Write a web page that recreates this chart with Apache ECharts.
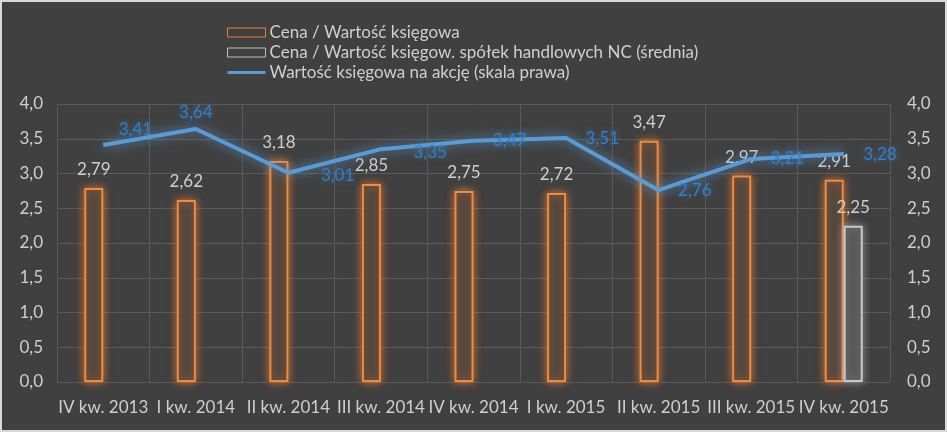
<!DOCTYPE html>
<html>
<head>
<meta charset="utf-8">
<script src="https://cdn.jsdelivr.net/npm/echarts@6/dist/echarts.min.js"></script>
<style>
html,body{margin:0;padding:0;background:#d9d9d9;}
#c{position:absolute;left:2px;top:2px;width:943px;height:428px;}
</style>
</head>
<body>
<div id="c"></div>
<script>
var categories = ['IV kw. 2013','I kw. 2014','II kw. 2014','III kw. 2014','IV kw. 2014','I kw. 2015','II kw. 2015','III kw. 2015','IV kw. 2015'];
var cenaWK = [2.79, 2.62, 3.18, 2.85, 2.75, 2.72, 3.47, 2.97, 2.91];
var cenaWKNC = [null, null, null, null, null, null, null, null, 2.25];
var wkNaAkcje = [3.41, 3.64, 3.01, 3.35, 3.47, 3.51, 2.76, 3.21, 3.28];
var yTicks = {min: 0, max: 4, interval: 0.5};

var FONT = 'Lato';
var FS = 17;
var txt = '#cfcfcf';
var gridC = '#5a5a5a';
function fmt(v){ return Number(v).toFixed(2).replace('.', ','); }
function fmt1(v){ return Number(v).toFixed(1).replace('.', ','); }

var lineData = wkNaAkcje.map(function(v, i){
  var d = {value: v};
  if (i === 1) d.label = {position: 'top', distance: 8};
  if (i === 0) d.label = {position: 'right', distance: 15, offset: [0, -15]};
  if (i === 2 || i === 3) d.label = {offset: [13, 3]};
  return d;
});

var chart = echarts.init(document.getElementById('c'));
chart.setOption({
  backgroundColor: '#404040',
  textStyle: {fontFamily: FONT},
  animation: false,
  legend: {
    orient: 'vertical',
    left: 220,
    top: 16,
    itemWidth: 38,
    itemHeight: 9,
    itemGap: 1,
    textStyle: {color: txt, fontSize: FS, fontFamily: FONT, lineHeight: 19, padding: [0,0,0,-1]},
    data: [
      {name: 'Cena / Wartość księgowa', icon: 'rect', itemStyle: {color: '#404040', borderColor: '#ed7d31', borderWidth: 1, shadowBlur: 0, opacity: 1}},
      {name: 'Cena / Wartość księgow. spółek handlowych NC (średnia)', icon: 'rect', itemStyle: {color: '#404040', borderColor: '#bfbfbf', borderWidth: 1, shadowBlur: 0, opacity: 1}},
      {name: 'Wartość księgowa na akcję (skala prawa)', icon: 'path://M0,0 L38,0 L38,3 L0,3 Z', itemStyle: {color: '#5b9bd5', borderWidth: 0, shadowBlur: 0, opacity: 1}}
    ]
  },
  grid: {left: 55, right: 55, top: 102, bottom: 48, containLabel: false},
  xAxis: {
    type: 'category',
    data: categories,
    boundaryGap: true,
    axisLine: {show: false},
    axisTick: {show: false},
    axisLabel: {color: txt, fontSize: FS, fontFamily: FONT, margin: 17, interval: 0},
    splitLine: {show: true, interval: 0, lineStyle: {color: gridC, width: 1}}
  },
  yAxis: [
    {type: 'value', min: yTicks.min, max: yTicks.max, interval: yTicks.interval,
     axisLine: {show: false}, axisTick: {show: false},
     axisLabel: {color: txt, fontSize: FS, fontFamily: FONT, margin: 14, formatter: fmt1},
     splitLine: {lineStyle: {color: gridC, width: 1}}},
    {type: 'value', min: yTicks.min, max: yTicks.max, interval: yTicks.interval, position: 'right',
     axisLine: {show: false}, axisTick: {show: false},
     axisLabel: {color: txt, fontSize: FS, fontFamily: FONT, margin: 17, formatter: fmt1},
     splitLine: {show: false}}
  ],
  series: [
    {
      name: 'Cena / Wartość księgowa', type: 'bar', data: cenaWK,
      barWidth: 19, barGap: '0%',
      itemStyle: {color: 'rgba(64,64,64,0.9)', borderColor: '#f08a3c', borderWidth: 2, shadowBlur: 9, shadowColor: 'rgba(237,125,49,0.9)'},
      label: {show: true, position: 'top', distance: 10, color: txt, fontSize: FS, fontFamily: FONT, formatter: function(p){return fmt(p.value);}}
    },
    {
      name: 'Cena / Wartość księgow. spółek handlowych NC (średnia)', type: 'bar', data: cenaWKNC,
      barWidth: 19, barGap: '0%',
      itemStyle: {color: 'rgba(80,80,80,0.9)', borderColor: '#c8c8c8', borderWidth: 2, shadowBlur: 9, shadowColor: 'rgba(200,200,200,0.6)'},
      label: {show: true, position: 'top', distance: 10, color: txt, fontSize: FS, fontFamily: FONT, formatter: function(p){return p.value == null ? '' : fmt(p.value);}}
    },
    {
      name: 'Wartość księgowa na akcję (skala prawa)', type: 'line', yAxisIndex: 1, data: lineData,
      showSymbol: true, symbol: 'circle', symbolSize: 1, smooth: false, z: 5,
      lineStyle: {color: '#5b9bd5', width: 4, shadowBlur: 12, shadowColor: 'rgba(91,155,213,0.9)'},
      itemStyle: {color: 'rgba(91,155,213,0)', borderWidth: 0},
      label: {show: true, position: 'right', distance: 19, color: '#2f80cc', fontSize: FS, fontFamily: FONT,
        textShadowBlur: 6, textShadowColor: 'rgba(91,155,213,0.5)',
        formatter: function(p){return fmt(p.value);}}
    }
  ]
});
</script>
</body>
</html>
